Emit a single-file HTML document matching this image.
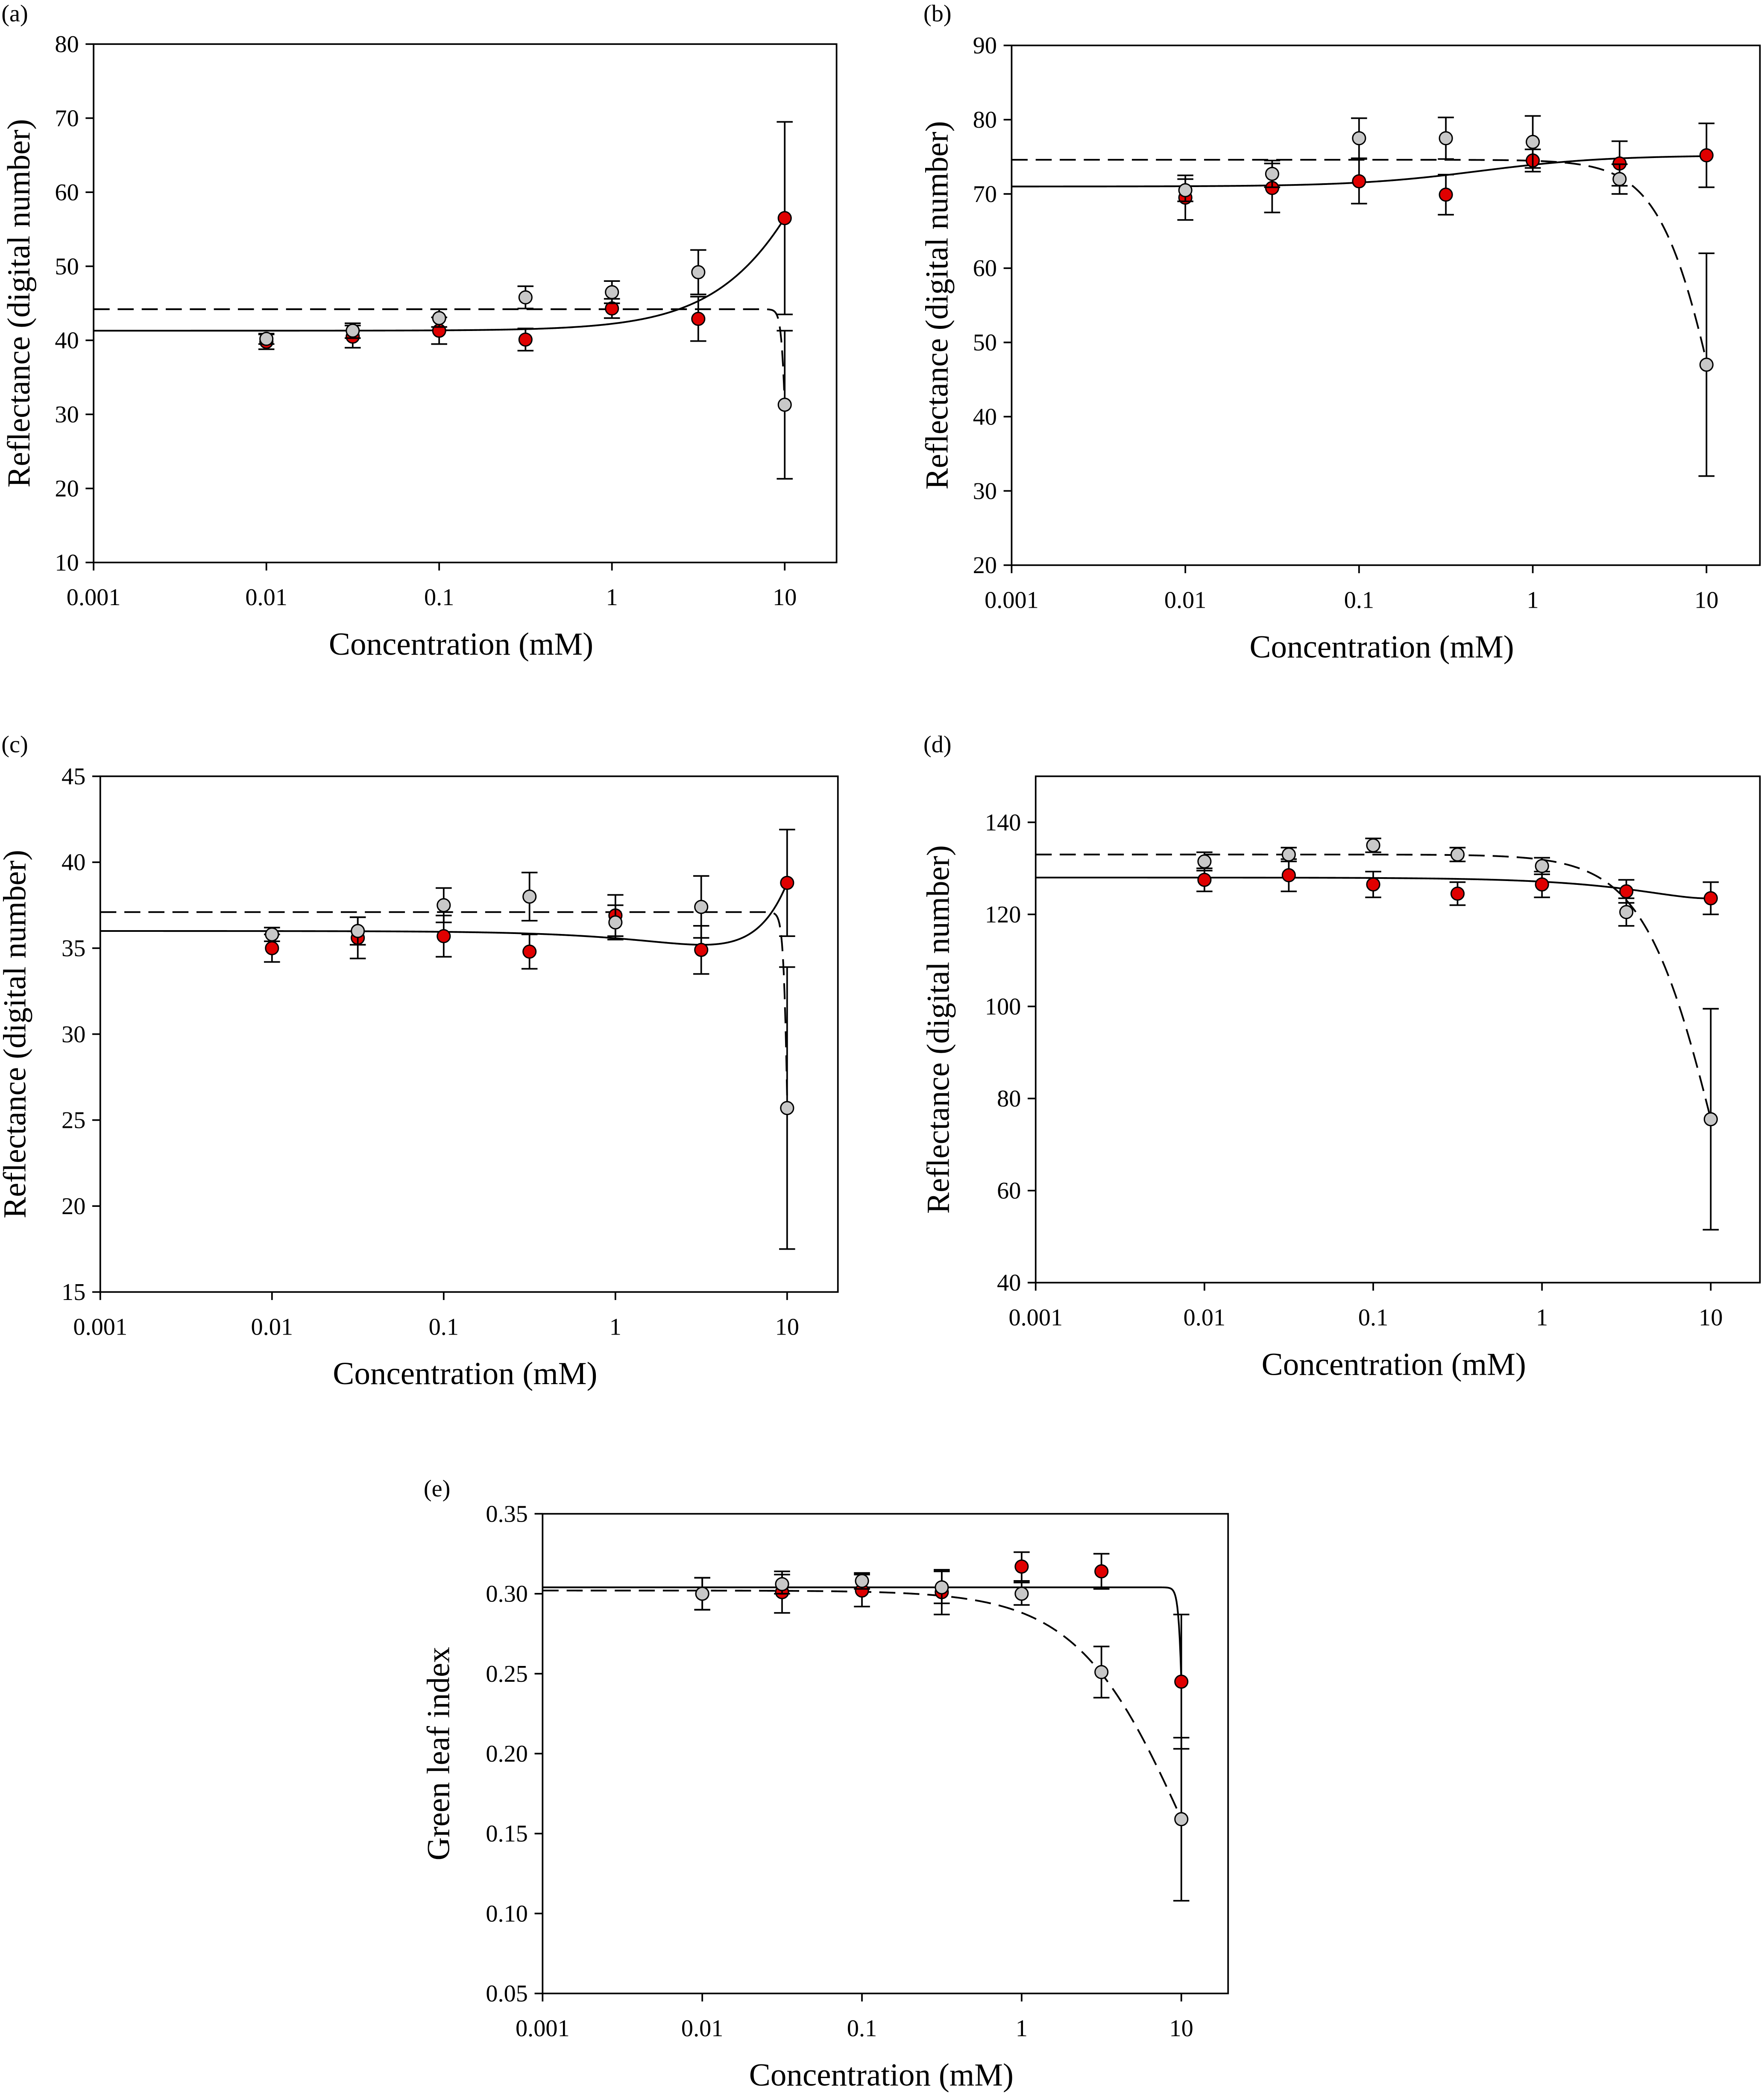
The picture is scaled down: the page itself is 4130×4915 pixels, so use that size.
<!DOCTYPE html>
<html><head><meta charset="utf-8"><style>
html,body{margin:0;padding:0;background:#fff;}
svg{display:block;}
text{font-family:"Liberation Serif",serif;fill:#000;}
</style></head><body>
<svg id="chart" xmlns="http://www.w3.org/2000/svg" width="4130" height="4915" viewBox="0 0 1320 1571"></svg>
<script>
// ---- data ----
const concentrations = [0.01, 0.0316, 0.1, 0.316, 1, 3.16, 10];
const xTickValues = [0.001, 0.01, 0.1, 1, 10];
const xTickLabels = ["0.001", "0.01", "0.1", "1", "10"];

const aGray = [40.2, 41.3, 43.0, 45.8, 46.5, 49.2, 31.3];
const aGrayErr = [0.7, 1.0, 1.2, 1.5, 1.5, 3.0, 10.0];
const aRed = [39.8, 40.5, 41.3, 40.1, 44.3, 42.9, 56.5];
const aRedErr = [1.0, 1.5, 1.8, 1.5, 1.3, 3.0, 13.0];
const aYTicks = [10, 20, 30, 40, 50, 60, 70, 80];

const bGray = [70.5, 72.7, 77.5, 77.5, 77.0, 72.0, 47.0];
const bGrayErr = [1.5, 1.8, 2.7, 2.8, 3.5, 2.0, 15.0];
const bRed = [69.5, 70.8, 71.7, 69.9, 74.5, 74.1, 75.2];
const bRedErr = [3.0, 3.3, 3.0, 2.7, 1.5, 3.0, 4.3];
const bYTicks = [20, 30, 40, 50, 60, 70, 80, 90];

const cGray = [35.8, 36.0, 37.5, 38.0, 36.5, 37.4, 25.7];
const cGrayErr = [0.4, 0.8, 1.0, 1.4, 1.0, 1.8, 8.2];
const cRed = [35.0, 35.6, 35.7, 34.8, 36.9, 34.9, 38.8];
const cRedErr = [0.8, 1.2, 1.2, 1.0, 1.2, 1.4, 3.1];
const cYTicks = [15, 20, 25, 30, 35, 40, 45];

const dGray = [131.5, 133.0, 135.0, 133.0, 130.5, 120.5, 75.5];
const dGrayErr = [2.0, 1.5, 1.5, 1.5, 1.8, 3.0, 24.0];
const dRed = [127.5, 128.5, 126.5, 124.5, 126.5, 125.0, 123.5];
const dRedErr = [2.5, 3.5, 2.8, 2.5, 2.8, 2.5, 3.5];
const dYTicks = [40, 60, 80, 100, 120, 140];

const eGray = [0.300, 0.306, 0.308, 0.304, 0.300, 0.251, 0.159];
const eGrayErr = [0.010, 0.006, 0.005, 0.010, 0.007, 0.016, 0.051];
const eRed = [0.300, 0.301, 0.302, 0.301, 0.317, 0.314, 0.245];
const eRedErr = [0.010, 0.013, 0.010, 0.014, 0.009, 0.011, 0.042];
const eYTicks = [0.05, 0.10, 0.15, 0.20, 0.25, 0.30, 0.35];

// fit curve parameters
const aSolidFit = {type:"logistic", top:41.3, bottom:120, ec50:30, h:1.3};
const aDashFit = {type:"logistic", top:44.2, bottom:0, ec50:10.3, h:30};
const bSolidFit = {type:"logistic", top:71, bottom:75.2, ec50:0.5, h:1.2};
const bDashFit = {type:"logistic", top:74.6, bottom:0, ec50:12.5, h:2.5};
const cSolidFit = {type:"poly", c0:36, c1:-0.50, c2:0.078};
const cDashFit = {type:"logistic", top:37.1, bottom:0, ec50:10.3, h:30};
const dSolidFit = {type:"poly", c0:128, c1:-0.949, c2:0.0498};
const dDashFit = {type:"logistic", top:133, bottom:0, ec50:11.5, h:1.95};
const eSolidFit = {type:"logistic", top:0.304, bottom:0, ec50:10.49, h:30};
const eDashFit = {type:"logistic", top:0.302, bottom:0, ec50:10.9, h:1.27};

const NS = "http://www.w3.org/2000/svg";
const svg = document.getElementById("chart");
function mk(tag, attrs, parent) {
  const e = document.createElementNS(NS, tag);
  for (const k in attrs) e.setAttribute(k, attrs[k]);
  (parent || svg).appendChild(e);
  return e;
}
function fitVal(f, x) {
  if (f.type === "poly") return f.c0 + f.c1 * x + f.c2 * x * x;
  return f.top + (f.bottom - f.top) / (1 + Math.pow(f.ec50 / x, f.h));
}

function panel(p) {
  const g = mk("g", {});
  
  
  const xs = v => p.x0 + (Math.log10(v) + 3) * p.dec;
  const ys = v => p.by + (v - p.ymin) / (p.ymax - p.ymin) * (p.ty - p.by);
  const box = mk("rect", {x:p.x0, y:p.ty, width:p.x1 - p.x0, height:p.by - p.ty, fill:"none", stroke:"#000", "stroke-width":1.2}, g);
  
  
  p.yt.forEach(v => {
    const y = ys(v);
    mk("line", {x1:p.x0 - 6, x2:p.x0, y1:y, y2:y, stroke:"#000", "stroke-width":1.2}, g);
    const t = mk("text", {x:p.x0 - 11, y:y + 6, "text-anchor":"end", "font-size":18}, g);
    
    
    t.textContent = p.yfmt ? v.toFixed(2) : String(v);
  });
  xTickValues.forEach((v, i) => {
    const x = xs(v);
    mk("line", {x1:x, x2:x, y1:p.by, y2:p.by + 6, stroke:"#000", "stroke-width":1.2}, g);
    const t = mk("text", {x:x, y:p.by + 32, "text-anchor":"middle", "font-size":18}, g);
    
    
    t.textContent = xTickLabels[i];
  });
  const xt = mk("text", {x:(p.x0 + p.x1) / 2 - 3, y:p.by + 69, "text-anchor":"middle", "font-size":24}, g);
  
  
  xt.textContent = "Concentration (mM)";
  const cy = (p.ty + p.by) / 2;
  const yt = mk("text", {x:p.ytx, y:cy, "text-anchor":"middle", "font-size":24, transform:"rotate(-90 " + p.ytx + " " + cy + ")"}, g);
  
  
  yt.textContent = p.ytitle;
  const lb = mk("text", {x:p.lx, y:p.ly, "font-family":"Liberation Sans, sans-serif", "font-size":18}, g);
  
  
  lb.textContent = "(" + p.id + ")";
  [[p.solid, "none", "solid-fit-line"], [p.dash, "12,6", "dashed-fit-line"]].forEach(([f, da, nm]) => {
    let d = "";
    for (let i = 0; i <= 800; i++) {
      const lx = -3 + i * (4 / 800);
      const x = Math.pow(10, lx);
      let yv = Math.min(Math.max(fitVal(f, x), p.ymin), p.ymax);
      d += (i ? "L" : "M") + xs(x).toFixed(2) + "," + ys(yv).toFixed(2);
    }
    const path = mk("path", {d:d, fill:"none", stroke:"#000", "stroke-width":1.3, "stroke-dasharray":da}, g);
    
    
  });
  [[p.red, p.redErr, "#e00000", "red-series"], [p.gray, p.grayErr, "#c8c8c8", "gray-series"]].forEach(([vals, errs, col, nm]) => {
    vals.forEach((v, i) => {
      const x = xs(concentrations[i]);
      const y1 = ys(v + errs[i]), y2 = ys(v - errs[i]);
      const eb = mk("path", {d:"M" + x + "," + y1 + "V" + y2 + "M" + (x - 6) + "," + y1 + "H" + (x + 6) + "M" + (x - 6) + "," + y2 + "H" + (x + 6), stroke:"#000", "stroke-width":1.2, fill:"none"}, g);
      
      
      const c = mk("circle", {cx:x, cy:ys(v), r:4.8, fill:col, stroke:"#000", "stroke-width":1}, g);
      
      
    });
  });
}

const RT = "Reflectance (digital number)";
panel({id:"a", x0:70, x1:626, ty:33, by:421, dec:129.3, ymin:10, ymax:80, yt:aYTicks, gray:aGray, grayErr:aGrayErr, red:aRed, redErr:aRedErr, solid:aSolidFit, dash:aDashFit, ytitle:RT, ytx:22, lx:1, ly:16});
panel({id:"b", x0:757, x1:1317, ty:34, by:423, dec:130, ymin:20, ymax:90, yt:bYTicks, gray:bGray, grayErr:bGrayErr, red:bRed, redErr:bRedErr, solid:bSolidFit, dash:bDashFit, ytitle:RT, ytx:709, lx:691, ly:16});
panel({id:"c", x0:75, x1:627, ty:581, by:967, dec:128.5, ymin:15, ymax:45, yt:cYTicks, gray:cGray, grayErr:cGrayErr, red:cRed, redErr:cRedErr, solid:cSolidFit, dash:cDashFit, ytitle:RT, ytx:19, lx:1, ly:563});
panel({id:"d", x0:775, x1:1317, ty:581, by:960, dec:126.3, ymin:40, ymax:150, yt:dYTicks, gray:dGray, grayErr:dGrayErr, red:dRed, redErr:dRedErr, solid:dSolidFit, dash:dDashFit, ytitle:RT, ytx:710, lx:691, ly:563});
panel({id:"e", x0:406, x1:919, ty:1133, by:1492, dec:119.5, ymin:0.05, ymax:0.35, yt:eYTicks, yfmt:true, gray:eGray, grayErr:eGrayErr, red:eRed, redErr:eRedErr, solid:eSolidFit, dash:eDashFit, ytitle:"Green leaf index", ytx:336, lx:317, ly:1120});
</script>
</body></html>
